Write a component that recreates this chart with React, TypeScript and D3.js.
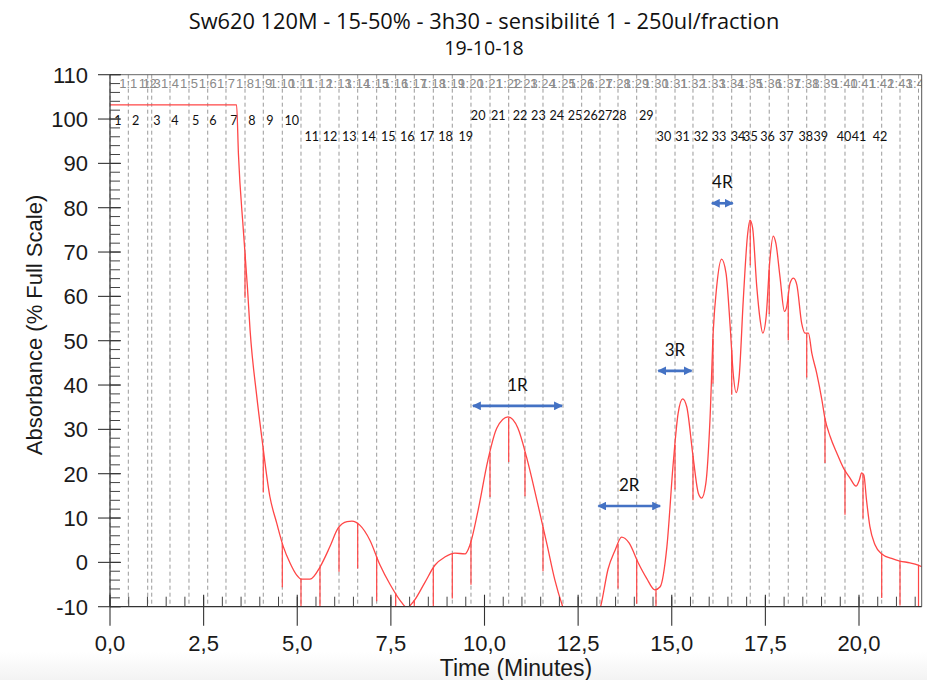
import React from "react";
import * as d3 from "d3";

// ---- data ----
const times = [0, 3.38, 3.43, 3.56, 3.67, 3.74, 3.92, 4.05, 4.27, 4.45, 4.63, 4.81, 4.98, 5.12, 5.34, 5.61, 5.87, 6.09, 6.33, 6.46, 6.67, 6.94, 7.21, 7.48, 7.74, 7.93, 8.09, 8.41, 8.68, 8.94, 9.21, 9.48, 9.61, 9.83, 10.09, 10.33, 10.63, 10.89, 11.13, 11.4, 11.67, 11.88, 12.07, 12.3, 12.6, 12.9, 13.1, 13.3, 13.49, 13.66, 13.86, 14.11, 14.33, 14.55, 14.69, 14.87, 15.04, 15.17, 15.29, 15.4, 15.57, 15.71, 15.8, 15.91, 16.02, 16.11, 16.2, 16.33, 16.45, 16.56, 16.64, 16.72, 16.8, 16.91, 17.02, 17.09, 17.16, 17.27, 17.36, 17.43, 17.52, 17.62, 17.71, 17.78, 17.89, 18.01, 18.07, 18.16, 18.25, 18.34, 18.47, 18.56, 18.65, 18.74, 18.87, 19.01, 19.09, 19.23, 19.41, 19.59, 19.76, 19.92, 20.01, 20.07, 20.13, 20.2, 20.29, 20.43, 20.61, 20.87, 21.09, 21.36, 21.58, 21.76];
const absorbance = [103.2, 103.2, 92, 75, 62, 52.4, 37.4, 28.4, 14.8, 8.9, 3.5, -0.2, -2.8, -3.8, -3.8, -1, 3.5, 7.7, 9.2, 9.3, 8.4, 5, -0.6, -5, -8.5, -10.2, -9, -4.5, -0.6, 1.2, 2.1, 1.9, 3.9, 11.8, 23, 30.3, 32.8, 30.3, 23.5, 14, 4, -4, -9.5, -14, -16, -14, -10, -1.5, 2.8, 5.7, 4.4, -0.2, -3.6, -6.2, -5.5, 3.5, 22.4, 33.6, 36.9, 35.1, 23.8, 15.6, 14.5, 17.8, 32, 52.4, 62.2, 68.4, 65.2, 53.2, 42.7, 38.3, 41.9, 59.2, 73.5, 77.2, 75.4, 62.2, 54.7, 51.7, 55.4, 68.2, 73.6, 72, 64.4, 56.6, 57.7, 63, 64.1, 62.6, 53.9, 51.7, 51.7, 47.2, 42.7, 36.6, 32.5, 28.4, 24.6, 21.2, 19, 17.2, 18.6, 20.2, 19.7, 14.1, 8.1, 3.9, 1.9, 0.9, 0.3, -0.1, -0.6, -1.3];

const fractionTimes = [0, 0.489, 1.007, 1.114, 1.602, 2.109, 2.609, 3.097, 3.605, 4.093, 4.601, 5.1, 5.607, 6.115, 6.614, 7.121, 7.628, 8.125, 8.633, 9.14, 9.639, 10.147, 10.646, 11.081, 11.562, 12.096, 12.595, 13.084, 13.565, 14.064, 14.579, 15.087, 15.567, 16.101, 16.601, 17.096, 17.603, 18.111, 18.604, 19.092, 19.626, 20.107, 20.606, 21.095, 21.589];

const fractionNumbers = Array.from({ length: 42 }, (_, i) => String(i + 1));
const fractionNumberTimes = [0.214, 0.686, 1.255, 1.736, 2.288, 2.75, 3.311, 3.792, 4.272, 4.852, 5.386, 5.874, 6.39, 6.9, 7.43, 7.94, 8.46, 8.96, 9.5, 9.83, 10.37, 10.95, 11.44, 11.93, 12.42, 12.83, 13.22, 13.6, 14.32, 14.79, 15.29, 15.78, 16.26, 16.77, 17.1, 17.56, 18.06, 18.58, 18.98, 19.6, 20.0, 20.56];

const annLabels = ["1R", "2R", "3R", "4R"];
const annStart = [9.69, 13.04, 14.64, 16.07];
const annEnd = [12.07, 14.69, 15.53, 16.63];
const annLevel = [35.3, 12.7, 43.2, 81];

const yTicks = [-10, 0, 10, 20, 30, 40, 50, 60, 70, 80, 90, 100, 110];
const xTicks = [0, 2.5, 5, 7.5, 10, 12.5, 15, 17.5, 20];

const title1 = "Sw620 120M - 15-50% - 3h30 - sensibilité 1 - 250ul/fraction";
const title2 = "19-10-18";

// ---- layout ----
const W = 927, H = 680;
const L = 110, R = 921.7, T = 74.7, B = 606.7;

export default function App() {
  const x = d3.scaleLinear().domain([0, (R - L) / 37.45]).range([L, R]);
  const y = d3.scaleLinear().domain([-10, 110]).range([B, T]);
  const pts: [number, number][] = times.map((t, i) => [t, absorbance[i]]);
  const line = d3.line<[number, number]>().x(d => x(d[0])).y(d => y(d[1])).curve(d3.curveMonotoneX);
  const interp = (t: number) => {
    const i = d3.bisectRight(times, t);
    if (i <= 0) return absorbance[0];
    if (i >= times.length) return absorbance[times.length - 1];
    const t0 = times[i - 1], t1 = times[i];
    const f = (t - t0) / (t1 - t0);
    return absorbance[i - 1] + f * (absorbance[i] - absorbance[i - 1]);
  };
  const minorY = d3.range(-10, 110.01, 2);
  const minorX = d3.range(0, 21.6, 0.5);
  const blue = "#4472C4";
  const red = "#ff4646";
  const axisFont = "'Liberation Sans', Arial, sans-serif";
  const cFont = "Lato, 'Open Sans', sans-serif";
  const tFont = "'Open Sans', Lato, sans-serif";
  const rowY = (k: number) => (k <= 10 ? 125 : k <= 19 ? 141 : k <= 29 ? 120 : 141);

  return (
    <svg width={W} height={H} style={{ position: "absolute", left: 0, top: 0, background: "#fff" }}>
      <defs>
        <clipPath id="plotclip">
          <rect x={L} y={T} width={R - L} height={B - T} />
        </clipPath>
        <marker id="ah" viewBox="0 0 10 10" refX="9" refY="5" markerWidth="3.4" markerHeight="3.4" orient="auto-start-reverse">
          <path d="M0,0 L10,5 L0,10 z" fill={blue} />
        </marker>
        <linearGradient id="bg" x1="0" y1="0" x2="0" y2="1">
          <stop offset="0" stopColor="#ffffff" />
          <stop offset="1" stopColor="#f3f3f3" />
        </linearGradient>
      </defs>
      <rect x={0} y={652} width={W} height={28} fill="url(#bg)" />

      {/* Title */}
      <text x={484} y={29} textAnchor="middle" fontFamily={tFont} fontSize={21.8} fill="#111">{title1}</text>
      <text x={484} y={55} textAnchor="middle" fontFamily={tFont} fontSize={19.5} fill="#111">{title2}</text>

      {/* fraction dashed lines */}
      {fractionTimes.map((t, i) => (
        <line key={"fl" + i} x1={x(t)} x2={x(t)} y1={T} y2={B} stroke="#9a9a9a" strokeWidth={1} strokeDasharray="4,3" />
      ))}

      {/* top gray fraction labels */}
      <g clipPath="url(#plotclip)">
        {fractionTimes.slice(1).map((t, i) => (
          <text key={"tl" + i} x={x(t)} y={88} textAnchor="middle" fontFamily={axisFont} fontSize={13} fill="#8a8a8a">{"1:" + (i + 1)}</text>
        ))}
      </g>

      {/* fraction numbers */}
      {fractionNumbers.map((s, i) => (
        <text key={"fn" + i} x={x(fractionNumberTimes[i])} y={rowY(i + 1)} textAnchor="middle" fontFamily={cFont} fontSize={12.6} fill="#111">{s}</text>
      ))}

      {/* curve */}
      <g clipPath="url(#plotclip)">
        <path d={line(pts) || ""} fill="none" stroke={red} strokeWidth={1.3} />
        {fractionTimes.filter(t => t > 3.5).map((t, i) => {
          const v = interp(t);
          if (v <= -10) return null;
          const v2 = Math.max(-10, v - 10);
          return <line key={"sp" + i} x1={x(t)} x2={x(t)} y1={y(v)} y2={y(v2)} stroke={red} strokeWidth={1.2} />;
        })}
      </g>

      {/* frame */}
      <line x1={L} x2={R} y1={T} y2={T} stroke="#666" strokeWidth={1} />
      <line x1={R} x2={R} y1={T} y2={B} stroke="#555" strokeWidth={1} />

      {/* Y axis */}
      <line x1={L} x2={L} y1={T} y2={B} stroke="#333" strokeWidth={1.2} />
      {minorY.map((v, i) => (
        <line key={"my" + i} x1={L} x2={L + 10} y1={y(v)} y2={y(v)} stroke="#444" strokeWidth={1} />
      ))}
      {yTicks.map((v, i) => (
        <g key={"yt" + i}>
          <line x1={L - 12} x2={L + 11} y1={y(v)} y2={y(v)} stroke="#333" strokeWidth={1.1} />
          <text x={88} y={y(v) + 8} textAnchor="end" fontFamily={axisFont} fontSize={22} fill="#1a1a1a">{v}</text>
        </g>
      ))}
      <text transform={`translate(42,${325}) rotate(-90)`} textAnchor="middle" fontFamily={axisFont} fontSize={22} fill="#1a1a1a">Absorbance (% Full Scale)</text>

      {/* X axis */}
      <line x1={L} x2={R} y1={B} y2={B} stroke="#333" strokeWidth={1.2} />
      {minorX.map((t, i) => (
        <line key={"mx" + i} x1={x(t)} x2={x(t)} y1={B} y2={B - 10} stroke="#444" strokeWidth={1} />
      ))}
      {xTicks.map((t, i) => (
        <g key={"xt" + i}>
          <line x1={x(t)} x2={x(t)} y1={B - 12} y2={B + 19} stroke="#333" strokeWidth={1.1} />
          <text x={x(t)} y={651} textAnchor="middle" fontFamily={axisFont} fontSize={22} fill="#1a1a1a">{t.toFixed(1).replace(".", ",")}</text>
        </g>
      ))}
      <text x={516} y={676} textAnchor="middle" fontFamily={axisFont} fontSize={23} fill="#1a1a1a">Time (Minutes)</text>

      {/* annotations */}
      {annLabels.map((s, i) => (
        <g key={"an" + i}>
          <line x1={x(annStart[i])} x2={x(annEnd[i])} y1={y(annLevel[i])} y2={y(annLevel[i])} stroke={blue} strokeWidth={2.6} markerStart="url(#ah)" markerEnd="url(#ah)" />
          <text x={(x(annStart[i]) + x(annEnd[i])) / 2} y={y(annLevel[i]) - 15} textAnchor="middle" fontFamily={cFont} fontSize={17} fill="#111">{s}</text>
        </g>
      ))}
    </svg>
  );
}
